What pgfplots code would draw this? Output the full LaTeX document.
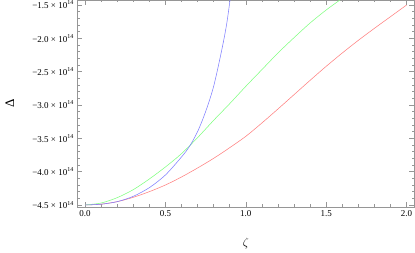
\documentclass[border=0pt]{standalone}
\usepackage{pgfplots}
\pgfplotsset{compat=1.18}
\usepackage{fontspec}
\setmainfont{Liberation Serif}
\definecolor{framegray}{RGB}{150,150,150}
\definecolor{cred}{RGB}{255,128,128}
\definecolor{cgreen}{RGB}{128,255,128}
\definecolor{cblue}{RGB}{128,128,255}
\begin{document}
\begin{tikzpicture}
\useasboundingbox (-77.3pt,-46pt) rectangle (337.7pt,207pt);
\begin{axis}[
  at={(0pt,0pt)}, anchor=south west,
  scale only axis, width=337pt, height=207pt,
  xmin=-0.048, xmax=2.048,
  ymin=-4.53e14, ymax=-1.425e14,
  axis line style={framegray, line width=0.6pt},
  every tick/.style={framegray, line width=0.5pt},
  major tick length=5pt, minor tick length=2.5pt,
  xtick={0,0.5,1,1.5,2},
  xticklabels={0.0,0.5,1.0,1.5,2.0},
  ytick={-4.5e14,-4e14,-3.5e14,-3e14,-2.5e14,-2e14,-1.5e14},
  yticklabels={−4.5 × 10\textsuperscript{14},−4.0 × 10\textsuperscript{14},−3.5 × 10\textsuperscript{14},−3.0 × 10\textsuperscript{14},−2.5 × 10\textsuperscript{14},−2.0 × 10\textsuperscript{14},−1.5 × 10\textsuperscript{14}},
  minor x tick num=4, minor y tick num=4,
  scaled y ticks=false,
  tick label style={font=\fontsize{9}{10}\selectfont, black},
  xlabel={\fontsize{13}{15}\selectfont $\zeta$},
  ylabel={\fontsize{13}{15}\selectfont Δ},
  xlabel style={at={(axis description cs:0.5,-0.174)}, anchor=center},
  ylabel style={at={(axis description cs:-0.2,0.5)}, anchor=center},
  clip=true,
]
\addplot[cred, line width=0.55pt, smooth] coordinates {
(0,-4.5e14) (0.1,-4.488e14) (0.2,-4.45e14) (0.3,-4.385e14) (0.4,-4.30e14) (0.5,-4.20e14)
(0.6,-4.08e14) (0.7,-3.945e14) (0.8,-3.80e14) (0.9,-3.64e14) (1.0,-3.47e14) (1.1,-3.27e14)
(1.2,-3.06e14) (1.3,-2.845e14) (1.4,-2.63e14) (1.5,-2.42e14) (1.6,-2.22e14) (1.7,-2.03e14)
(1.8,-1.85e14) (1.9,-1.675e14) (2.0,-1.50e14)
};
\addplot[cgreen, line width=0.55pt, smooth] coordinates {
(0,-4.5e14) (0.1,-4.47e14) (0.2,-4.39e14) (0.3,-4.27e14) (0.4,-4.11e14) (0.5,-3.93e14)
(0.6,-3.73e14) (0.7,-3.49e14) (0.8,-3.23e14) (0.9,-2.98e14) (1.0,-2.72e14) (1.1,-2.47e14)
(1.2,-2.22e14) (1.3,-1.99e14) (1.4,-1.77e14) (1.5,-1.575e14) (1.6,-1.40e14) (1.7,-1.23e14)
};
\addplot[cblue, line width=0.55pt, smooth] coordinates {
(0,-4.5e14) (0.1,-4.488e14) (0.2,-4.45e14) (0.3,-4.37e14) (0.4,-4.24e14) (0.5,-4.05e14)
(0.6,-3.78e14) (0.65,-3.62e14) (0.7,-3.40e14) (0.75,-3.10e14) (0.8,-2.72e14) (0.85,-2.18e14)
(0.88,-1.80e14) (0.902,-1.425e14) (0.92,-1.10e14)
};
\end{axis}
\end{tikzpicture}
\end{document}
